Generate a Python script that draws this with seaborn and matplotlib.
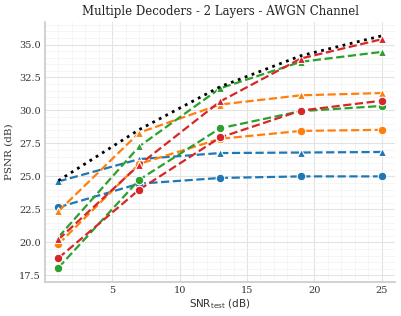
import numpy as np
import pandas as pd
import matplotlib
matplotlib.use("Agg")
import matplotlib.pyplot as plt
from matplotlib.ticker import AutoMinorLocator
import seaborn as sns

snr = [1, 7, 13, 19, 25]
decoders = ["Decoder 1", "Decoder 2", "Decoder 3", "Decoder 4"]
colors = ["#1f77b4", "#ff7f0e", "#2ca02c", "#d62728"]

# Layer 1 (circles)
psnr_l1 = {
    "Decoder 1": [22.66, 24.45, 24.88, 25.00, 25.00],
    "Decoder 2": [19.87, 25.95, 27.85, 28.45, 28.53],
    "Decoder 3": [18.08, 24.75, 28.65, 29.95, 30.34],
    "Decoder 4": [18.81, 24.00, 27.95, 29.99, 30.74],
}
# Layer 2 (triangles)
psnr_l2 = {
    "Decoder 1": [24.62, 26.31, 26.77, 26.81, 26.85],
    "Decoder 2": [22.36, 28.32, 30.45, 31.15, 31.32],
    "Decoder 3": [20.40, 27.28, 31.68, 33.69, 34.44],
    "Decoder 4": [20.22, 25.88, 30.68, 33.94, 35.40],
}
upper_bound = [24.68, 28.55, 31.80, 34.15, 35.66]

rows = []
for d in decoders:
    for x, y in zip(snr, psnr_l1[d]):
        rows.append({"SNR": x, "PSNR": y, "Decoder": d, "Layer": "Layer 1"})
    for x, y in zip(snr, psnr_l2[d]):
        rows.append({"SNR": x, "PSNR": y, "Decoder": d, "Layer": "Layer 2"})
df = pd.DataFrame(rows)
ub = pd.DataFrame({"SNR": snr, "PSNR": upper_bound})

sns.set_theme(style="whitegrid")
plt.rcParams["font.family"] = ["DejaVu Serif"]
plt.rcParams["mathtext.fontset"] = "dejavusans"

fig = plt.figure(figsize=(4.02, 3.16), dpi=100)
ax = fig.add_axes([0.112, 0.108, 0.871, 0.822])

sns.lineplot(data=df, x="SNR", y="PSNR", hue="Decoder", style="Layer",
             palette=colors, hue_order=decoders,
             markers={"Layer 1": "o", "Layer 2": "^"},
             dashes={"Layer 1": (3.7, 1.6), "Layer 2": (3.7, 1.6)},
             linewidth=1.6, markersize=6.2, markeredgecolor="white",
             markeredgewidth=0.8, ax=ax, legend=False)
sns.lineplot(data=ub, x="SNR", y="PSNR", color="black", linestyle=":",
             linewidth=2, ax=ax, legend=False, zorder=5)

ax.set_xlim(0, 26)
ax.set_ylim(17.0, 36.7)
ax.set_xticks([5, 10, 15, 20, 25])
ax.set_yticks([17.5, 20.0, 22.5, 25.0, 27.5, 30.0, 32.5, 35.0])
ax.xaxis.set_minor_locator(AutoMinorLocator())
ax.yaxis.set_minor_locator(AutoMinorLocator())
ax.grid(which="major", color="#e3e3e3", linewidth=0.8)
ax.grid(which="minor", color="#f2f2f2", linewidth=0.5)
ax.tick_params(axis="both", which="major", labelsize=7, colors="#333333", length=0, pad=3)
ax.tick_params(which="minor", length=0)
for s in ["top", "right"]:
    ax.spines[s].set_visible(False)
for s in ["left", "bottom"]:
    ax.spines[s].set_color("#cccccc")

ax.set_title("Multiple Decoders - 2 Layers - AWGN Channel", fontsize=8.5, color="#222222", pad=5)
ax.set_ylabel("PSNR (dB)", fontsize=7.5, color="#333333")
ax.set_xlabel(r"$\mathrm{SNR}_{\mathrm{test}}\ \mathrm{(dB)}$", fontsize=7.5, color="#333333", labelpad=2)

fig.savefig("out.png", dpi=100)
